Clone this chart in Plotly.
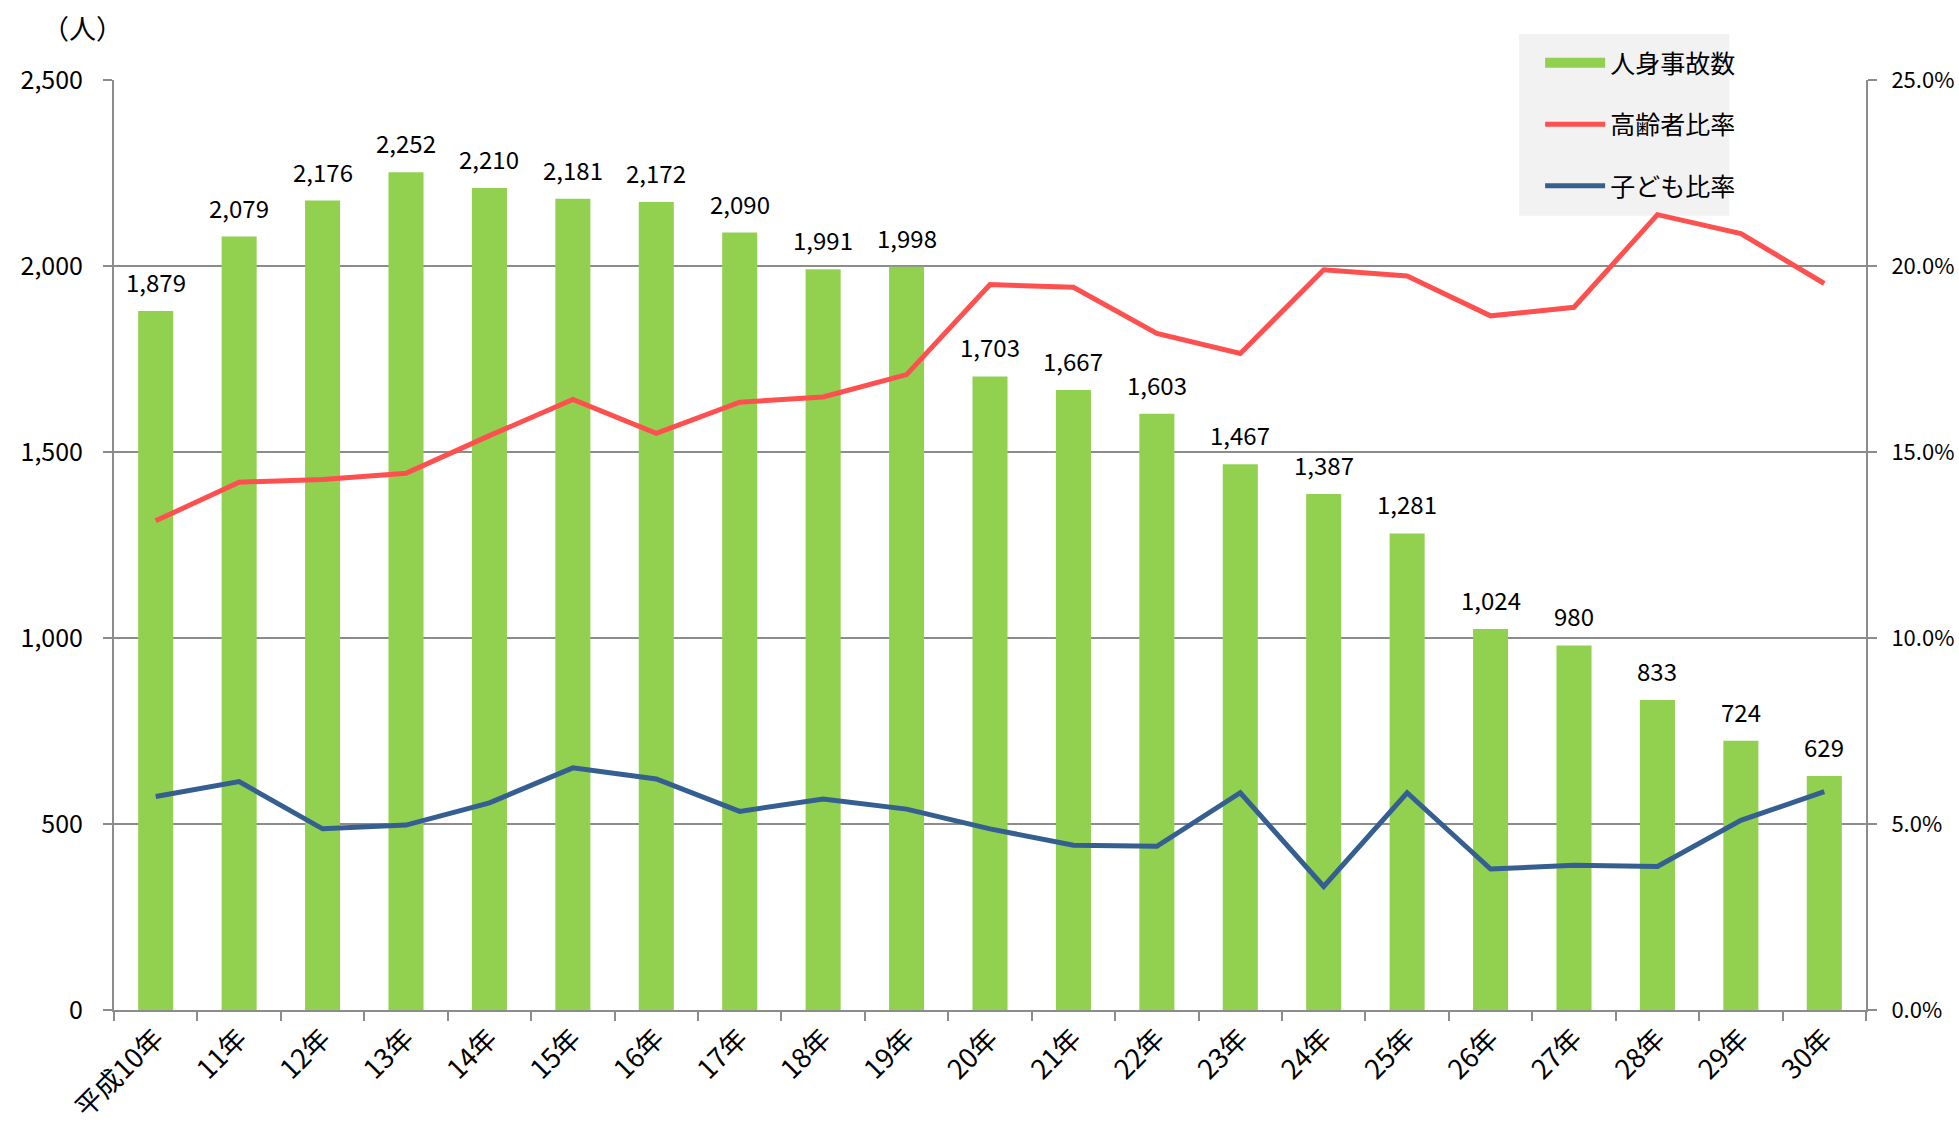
import plotly.graph_objects as go

categories = ["平成10年", "11年", "12年", "13年", "14年", "15年", "16年", "17年", "18年", "19年",
              "20年", "21年", "22年", "23年", "24年", "25年", "26年", "27年", "28年", "29年", "30年"]
accidents = [1879, 2079, 2176, 2252, 2210, 2181, 2172, 2090, 1991, 1998,
             1703, 1667, 1603, 1467, 1387, 1281, 1024, 980, 833, 724, 629]
elderly_ratio = [0.1315, 0.1419, 0.1426, 0.1443, 0.1544, 0.1641, 0.1550, 0.1634, 0.1648, 0.1708,
                 0.1950, 0.1943, 0.1819, 0.1765, 0.1990, 0.1973, 0.1866, 0.1889, 0.2138, 0.2087, 0.1953]
child_ratio = [0.0574, 0.0614, 0.0487, 0.0497, 0.0557, 0.0651, 0.0621, 0.0534, 0.0567, 0.0540,
               0.0487, 0.0443, 0.0440, 0.0584, 0.0332, 0.0584, 0.0379, 0.0389, 0.0386, 0.0510, 0.0587]

FONT = "Noto Sans CJK JP"
GRID = "#8c8c8c"
GREEN = "#92d050"

fig = go.Figure()
fig.add_trace(go.Bar(
    x=categories, y=accidents, name="人身事故数",
    marker=dict(color=GREEN, line=dict(width=0)),
    width=0.42, showlegend=False,
))
# legend entry for the bars (wide green rectangle)
fig.add_trace(go.Scatter(
    x=[categories[0]], y=[None], name="人身事故数", mode="lines",
    line=dict(color=GREEN, width=16), legendgroup="a", hoverinfo="skip",
))
fig.add_trace(go.Scatter(
    x=categories, y=elderly_ratio, name="高齢者比率", yaxis="y2",
    mode="lines", line=dict(color="#ff5050", width=5), legendgroup="b",
))
fig.add_trace(go.Scatter(
    x=categories, y=child_ratio, name="子ども比率", yaxis="y2",
    mode="lines", line=dict(color="#355f91", width=5), legendgroup="c",
))

annotations = [dict(
    x=c, y=v, xref="x", yref="y", text=f"{v:,}", showarrow=False,
    yanchor="bottom", yshift=10, font=dict(size=24, family=FONT, color="#000000"),
) for c, v in zip(categories, accidents)]
annotations.append(dict(
    text="（人）", xref="paper", yref="paper", x=-0.018, y=1.056,
    xanchor="center", yanchor="middle", showarrow=False,
    font=dict(size=27, family=FONT),
))

fig.update_layout(
    width=1959, height=1127,
    margin=dict(l=114, r=93, t=80, b=117, autoexpand=False),
    paper_bgcolor="white", plot_bgcolor="white",
    font=dict(family=FONT, size=24, color="#000000"),
    showlegend=True,
    xaxis=dict(
        type="category", tickangle=-45, showgrid=False, automargin=False,
        showline=True, linecolor=GRID, linewidth=2,
        ticks="outside", tickson="boundaries", ticklen=9, tickcolor=GRID, tickwidth=2,
        tickfont=dict(size=27, family=FONT),
    ),
    yaxis=dict(
        range=[0, 2500], dtick=500, tickformat=",", automargin=False,
        showgrid=True, gridcolor=GRID, gridwidth=2,
        showline=True, linecolor=GRID, linewidth=2,
        ticks="outside", ticklen=9, tickcolor=GRID, tickwidth=2,
        tickfont=dict(size=25, family=FONT), zeroline=False,
        ticklabelstandoff=15,
    ),
    yaxis2=dict(
        range=[0, 0.25], dtick=0.05, tickformat=".1%", overlaying="y", side="right",
        automargin=False,
        showgrid=False, showline=True, linecolor=GRID, linewidth=2,
        ticks="outside", ticklen=9, tickcolor=GRID, tickwidth=2,
        tickfont=dict(size=22, family=FONT), zeroline=False,
        ticklabelstandoff=10,
    ),
    legend=dict(
        x=0.814, y=1.043, xanchor="left", yanchor="top",
        bgcolor="rgba(0,0,0,0)", borderwidth=0,
        font=dict(size=25, family=FONT),
        traceorder="grouped", tracegroupgap=26,
        itemwidth=60,
    ),
    shapes=[dict(
        type="rect", xref="paper", yref="paper",
        x0=0.802, x1=0.922, y0=0.854, y1=1.0495,
        fillcolor="#f2f2f2", line=dict(width=0), layer="below",
    )],
    annotations=annotations,
)

fig.write_html(
    "out.html",
    config={"displayModeBar": False},
    post_script="document.body.style.margin='0';document.body.style.overflow='hidden';",
)
